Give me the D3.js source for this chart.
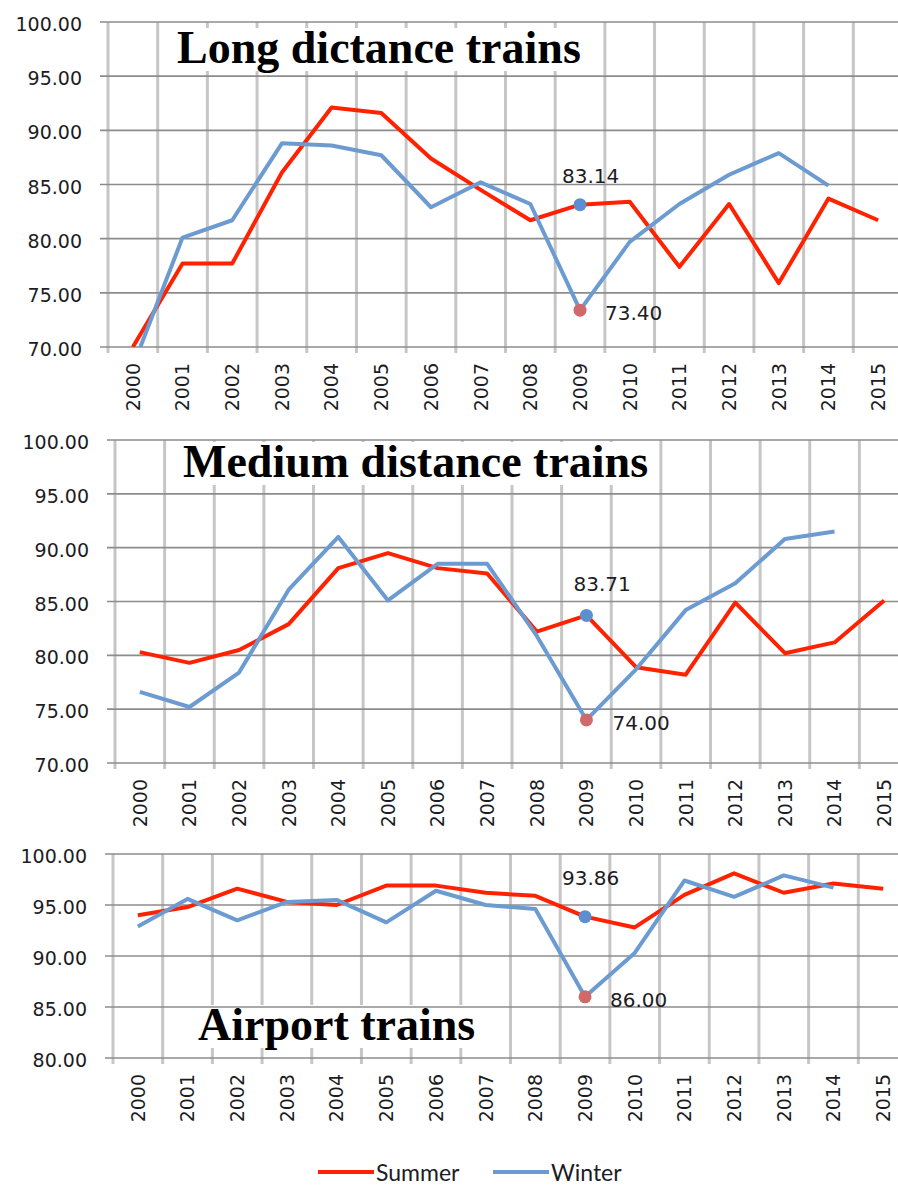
<!DOCTYPE html>
<html>
<head>
<meta charset="utf-8">
<script src="https://cdn.jsdelivr.net/npm/d3@7"></script>
<style>
  body { margin: 0; background: #fff; }
  svg { display: block; }
</style>
</head>
<body>
<script>
var W = 898, H = 1185;

// categories
var years = ["2000","2001","2002","2003","2004","2005","2006","2007",
             "2008","2009","2010","2011","2012","2013","2014","2015"];

// Long distance trains
var longSummer = [70.0, 77.7, 77.7, 86.1, 92.1, 91.6, 87.4, 84.5, 81.7, 83.14, 83.4, 77.4, 83.2, 75.9, 83.7, 81.7];
var longWinter = [68.2, 80.1, 81.7, 88.8, 88.6, 87.7, 82.9, 85.2, 83.2, 73.40, 79.7, 83.2, 85.9, 87.9, 84.9, null];

// Medium distance trains
var medSummer = [80.3, 79.3, 80.5, 82.9, 88.1, 89.5, 88.1, 87.6, 82.2, 83.71, 78.9, 78.2, 84.9, 80.2, 81.2, 85.1];
var medWinter = [76.6, 75.2, 78.4, 86.1, 91.0, 85.1, 88.5, 88.5, 81.8, 74.00, 78.7, 84.2, 86.7, 90.8, 91.5, null];

// Airport trains
var airSummer = [94.0, 94.8, 96.6, 95.3, 95.0, 96.9, 96.9, 96.2, 95.9, 93.86, 92.8, 96.0, 98.1, 96.2, 97.1, 96.6];
var airWinter = [92.9, 95.6, 93.5, 95.3, 95.5, 93.3, 96.4, 95.0, 94.6, 86.00, 90.3, 97.4, 95.8, 97.9, 96.7, null];

var longTicks = [70, 75, 80, 85, 90, 95, 100];
var medTicks = [70, 75, 80, 85, 90, 95, 100];
var airTicks = [80, 85, 90, 95, 100];

var highlightYear = "2009";
var seriesNames = ["Summer", "Winter"];

var red = "#ff2200", blue = "#6b9bd1";
var markBlue = "#5c8fcf", markRed = "#d06a6a";
var fmt = d3.format(".2f");

var svg = d3.select("body").append("svg")
  .attr("width", W).attr("height", H);
svg.append("rect").attr("width", W).attr("height", H).attr("fill", "#fff");

var panels = [
  {title: "Long dictance trains", summer: longSummer, winter: longWinter, ticks: longTicks,
   left: 108, right: 903, top: 22, bottom: 347, titleX: 177, titleY: 63,
   upDx: -18, upDy: -22, lowDx: 25, lowDy: 10},
  {title: "Medium distance trains", summer: medSummer, winter: medWinter, ticks: medTicks,
   left: 115, right: 909, top: 440, bottom: 763, titleX: 183, titleY: 477,
   upDx: -13, upDy: -24, lowDx: 26, lowDy: 10},
  {title: "Airport trains", summer: airSummer, winter: airWinter, ticks: airTicks,
   left: 113, right: 908, top: 854, bottom: 1058, titleX: 198, titleY: 1040,
   upDx: -23, upDy: -32, lowDx: 25, lowDy: 10}
];

panels.forEach(function(p, pi) {
  var g = svg.append("g");
  var x = d3.scaleBand().domain(years).range([p.left, p.right]);
  var y = d3.scaleLinear().domain([p.ticks[0], p.ticks[p.ticks.length - 1]]).range([p.bottom, p.top]);
  var cx = function(i) { return x(years[i]) + x.bandwidth() / 2; };

  var clipId = "clip" + pi;
  g.append("clipPath").attr("id", clipId).append("rect")
    .attr("x", p.left).attr("y", p.top)
    .attr("width", p.right - p.left).attr("height", p.bottom - p.top);

  // vertical grid lines at category boundaries
  var bounds = years.map(function(d) { return x(d); }).concat([p.right]);
  g.selectAll("line.vgrid").data(bounds).enter().append("line")
    .attr("class", "vgrid")
    .attr("x1", function(d) { return d; }).attr("x2", function(d) { return d; })
    .attr("y1", p.top).attr("y2", p.bottom + 6)
    .attr("stroke", "#c6c6c6").attr("stroke-width", 3);

  // white box behind the title hides the vertical lines only
  var tbox = g.append("rect").attr("fill", "#fff");

  // horizontal grid lines
  g.selectAll("line.hgrid").data(p.ticks).enter().append("line")
    .attr("class", "hgrid")
    .attr("x1", p.left - 8).attr("x2", p.right)
    .attr("y1", function(d) { return y(d); }).attr("y2", function(d) { return y(d); })
    .attr("stroke", "#8c8c8c").attr("stroke-width", 1.6);

  // y axis labels
  var ya = g.append("g")
    .attr("transform", "translate(" + (p.left - 8) + ",0)")
    .call(d3.axisLeft(y).tickValues(p.ticks).tickFormat(fmt).tickSize(0).tickPadding(18));
  ya.select(".domain").remove();
  ya.selectAll("text")
    .attr("dy", "0.45em")
    .style("font-family", "DejaVu Sans, Verdana, sans-serif")
    .style("font-size", "19px")
    .style("fill", "#1c1c24");

  // x axis labels (rotated)
  g.selectAll("text.year").data(years).enter().append("text")
    .attr("class", "year")
    .attr("transform", function(d) {
      return "translate(" + (x(d) + x.bandwidth() / 2) + "," + (p.bottom + 16) + ") rotate(-90)";
    })
    .attr("text-anchor", "end")
    .attr("dy", "0.36em")
    .style("font-family", "DejaVu Sans, Verdana, sans-serif")
    .style("font-size", "19px")
    .style("fill", "#1c1c24")
    .text(function(d) { return d; });

  // title
  var tt = g.append("text")
    .attr("x", p.titleX).attr("y", p.titleY)
    .style("font-family", "Liberation Serif, Times New Roman, serif")
    .style("font-weight", "bold")
    .style("font-size", "46px")
    .style("fill", "#000")
    .text(p.title);
  var bb = tt.node().getBBox();
  tbox.attr("x", bb.x - 2).attr("y", bb.y + 6)
    .attr("width", bb.width + 4).attr("height", bb.height - 8);

  // lines
  var line = d3.line()
    .defined(function(d) { return d != null; })
    .x(function(d, i) { return cx(i); })
    .y(function(d) { return y(d); });

  var lg = g.append("g").attr("clip-path", "url(#" + clipId + ")");
  lg.append("path").datum(p.summer)
    .attr("d", line).attr("fill", "none")
    .attr("stroke", red).attr("stroke-width", 4).attr("stroke-linejoin", "round");
  lg.append("path").datum(p.winter)
    .attr("d", line).attr("fill", "none")
    .attr("stroke", blue).attr("stroke-width", 4).attr("stroke-linejoin", "round");

  // highlighted 2009 points
  var hi = years.indexOf(highlightYear);
  var sv = p.summer[hi], wv = p.winter[hi];
  g.append("circle").attr("cx", cx(hi)).attr("cy", y(sv)).attr("r", 6.5).attr("fill", markBlue);
  g.append("circle").attr("cx", cx(hi)).attr("cy", y(wv)).attr("r", 6.5).attr("fill", markRed);

  g.append("text")
    .attr("x", cx(hi) + p.upDx).attr("y", y(sv) + p.upDy)
    .style("font-family", "DejaVu Sans, Verdana, sans-serif")
    .style("font-size", "20px").style("fill", "#1c1c24")
    .text(fmt(sv));
  g.append("text")
    .attr("x", cx(hi) + p.lowDx).attr("y", y(wv) + p.lowDy)
    .style("font-family", "DejaVu Sans, Verdana, sans-serif")
    .style("font-size", "20px").style("fill", "#1c1c24")
    .text(fmt(wv));
});

// legend
var legend = svg.append("g");
var legendItems = [{name: seriesNames[0], color: red, x: 318}, {name: seriesNames[1], color: blue, x: 493}];
legendItems.forEach(function(d) {
  legend.append("line")
    .attr("x1", d.x).attr("x2", d.x + 56)
    .attr("y1", 1172).attr("y2", 1172)
    .attr("stroke", d.color).attr("stroke-width", 4);
  legend.append("text")
    .attr("x", d.x + 58).attr("y", 1181)
    .style("font-family", "Lato, sans-serif")
    .style("font-size", "23px").style("fill", "#1c1c24")
    .text(d.name);
});
</script>
</body>
</html>
